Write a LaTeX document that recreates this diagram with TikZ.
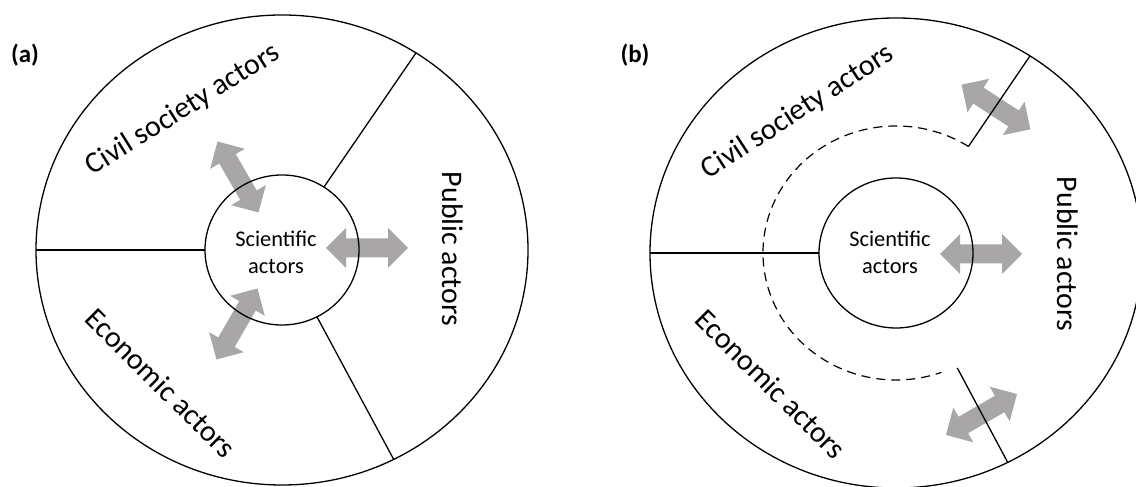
\documentclass[tikz,border=0pt]{standalone}
\usepackage{fontspec}
\setmainfont{Carlito}
\usetikzlibrary{calc}
\definecolor{arrowgray}{RGB}{168,166,166}
\tikzset{
  ring/.style={line width=1.3bp, draw=black},
  divider/.style={line width=1.3bp, draw=black},
  boundary/.style={line width=1.2bp, dash pattern=on 9bp off 6bp},
  sector/.style={font=\fontsize{30}{34}\selectfont, inner sep=0pt},
  core/.style={font=\fontsize{22.5}{27}\selectfont, align=center, inner sep=0pt},
  panel/.style={font=\bfseries\fontsize{25}{30}\selectfont, inner sep=0pt},
  pics/dblarrow/.style={code={
    \fill[arrowgray] (-41,0) -- (-21,20) -- (-21,9.5) -- (21,9.5) -- (21,20)
      -- (41,0) -- (21,-20) -- (21,-9.5) -- (-21,-9.5) -- (-21,-20) -- cycle;}}
}
\begin{document}
\begin{tikzpicture}[x=1bp,y=1bp]
\useasboundingbox (0,0) rectangle (1136,487);
\clip (0,0) rectangle (1136,487);

% ---------------- panel (a) ----------------
\coordinate (A) at (282,237);
\pic[rotate=0]   at ($(A)+(85,2)$)    {dblarrow};
\pic[rotate=-60] at ($(A)+(-44,73)$)  {dblarrow};
\pic[rotate=60]  at ($(A)+(-45,-74)$) {dblarrow};

\draw[ring] (A) ellipse [x radius=246, y radius=235];
\draw[ring] (A) ellipse [x radius=77, y radius=75];
\draw[divider] ($(A)+(180:77 and 75)$) -- ($(A)+(180:246 and 235)$);
\draw[divider] ($(A)+(57:77 and 75)$)  -- ($(A)+(57:246 and 235)$);
\draw[divider] ($(A)+(-63:77 and 75)$) -- ($(A)+(-63:246 and 235)$);

\node[panel] (labA) at (25,432) {(a)};
\node[core] (sciA) at ($(A)+(-6,-2)$) {Scientific\\actors};
\node[sector, rotate=32]  (civA) at (183,377) {Civil society actors};
\node[sector, rotate=-45] (ecoA) at (161,104) {Economic actors};
\node[sector, rotate=-90] (pubA) at (453,238) {Public actors};

% ---------------- panel (b) ----------------
\coordinate (B) at (896,234);
\pic[rotate=0]   at ($(B)+(85,-1)$) {dblarrow};
\pic[rotate=-33] at (996,380)       {dblarrow};
\pic[rotate=30]  at (981.5,72.5)    {dblarrow};

\draw[ring] (B) ellipse [x radius=246, y radius=235];
\draw[ring] (B) ellipse [x radius=77, y radius=75];
\draw[boundary] ($(B)+(57:133 and 127)$)
  arc[start angle=57, end angle=290, x radius=133, y radius=127];
\draw[divider] ($(B)+(180:77 and 75)$)   -- ($(B)+(180:246 and 235)$);
\draw[divider] ($(B)+(57:133 and 127)$)  -- ($(B)+(57:246 and 235)$);
\draw[divider] ($(B)+(-63:135 and 129)$) -- ($(B)+(-63:246 and 235)$);

\node[panel] (labB) at (635,432) {(b)};
\node[core] (sciB) at ($(B)+(-6,1)$) {Scientific\\actors};
\node[sector, rotate=33]  (civB) at (798,375) {Civil society actors};
\node[sector, rotate=-45] (ecoB) at (771,103) {Economic actors};
\node[sector, rotate=-90] (pubB) at (1068,233) {Public actors};
\end{tikzpicture}
\end{document}
